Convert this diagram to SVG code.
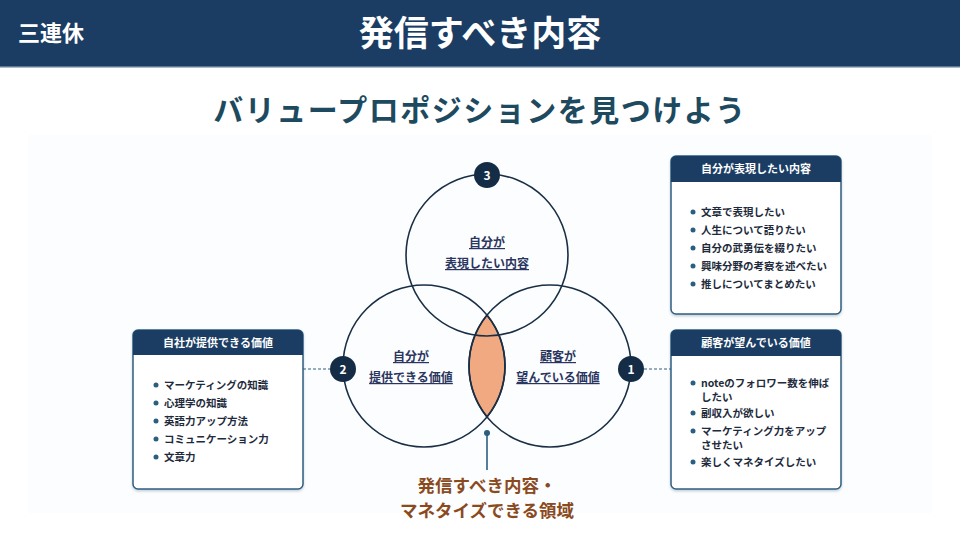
<svg xmlns="http://www.w3.org/2000/svg" width="960" height="540" viewBox="0 0 960 540">
<defs>
<style>
text{font-family:"Noto Sans CJK JP","Noto Sans",sans-serif;font-weight:700}
.hd{fill:#1b3d63}
.box{fill:#ffffff;stroke:#2f5f80;stroke-width:1.5}
.htxt{fill:#ffffff;font-size:11px;text-anchor:middle}
.item{fill:#1e2b3c;font-size:10.5px}
.dot{fill:#2a5f80}
.circ{fill:none;stroke:#1a2f45;stroke-width:1.6}
.lbl{fill:#2b3660;font-size:12px;text-anchor:middle;text-decoration:underline}
.badge{fill:#142c45}
.btxt{fill:#ffffff;font-size:12px;text-anchor:middle}
.dash{stroke:#2f5f80;stroke-width:1;stroke-dasharray:3 2;fill:none}
</style>
<filter id="sh" x="-10%" y="-10%" width="120%" height="120%"><feDropShadow dx="0" dy="1.5" stdDeviation="1.2" flood-color="#1b3d63" flood-opacity="0.25"/></filter>
</defs>
<rect width="960" height="540" fill="#ffffff"/>
<rect x="28" y="135" width="904" height="378" fill="#fcfdfe"/>
<g id="header">
<rect x="0" y="0" width="960" height="67" fill="#1b3d63"/>
<rect x="0" y="66" width="960" height="1.5" fill="#5d7894"/>
<text x="18" y="41" font-size="22" fill="#ffffff">三連休</text>
<text x="480" y="46" font-size="35" fill="#ffffff" text-anchor="middle">発信すべき内容</text>
</g>
<g id="subtitle">
<text x="480" y="121" font-size="30" fill="#1d4a5e" text-anchor="middle" letter-spacing="1.5">バリュープロポジションを見つけよう</text>
</g>
<g id="connectors">
<line class="dash" x1="303" y1="369" x2="330" y2="369"/>
<line class="dash" x1="644" y1="369" x2="671" y2="369"/>
<line x1="487" y1="433" x2="487" y2="470" stroke="#2a5f80" stroke-width="1.6"/>
<circle cx="487" cy="433" r="3" fill="#2a5f80"/>
</g>
<g id="venn">
<path d="M487,315.1 A81,81 0 0 1 487,416.9 A81,81 0 0 1 487,315.1 Z" fill="#f0a981" stroke="#1a2f45" stroke-width="1.6"/>
<circle class="circ" cx="487" cy="255" r="81"/>
<circle class="circ" cx="424" cy="366" r="81"/>
<circle class="circ" cx="550" cy="366" r="81"/>
</g>
<g id="label-top">
<text class="lbl" x="487" y="247">自分が</text>
<text class="lbl" x="487" y="268">表現したい内容</text>
</g>
<g id="label-left">
<text class="lbl" x="411" y="361">自分が</text>
<text class="lbl" x="411" y="382">提供できる価値</text>
</g>
<g id="label-right">
<text class="lbl" x="558" y="361">顧客が</text>
<text class="lbl" x="558" y="382">望んでいる価値</text>
</g>
<g id="badge3"><circle class="badge" cx="487" cy="175" r="13"/><text class="btxt" x="487" y="179.5">3</text></g>
<g id="badge2"><circle class="badge" cx="343" cy="369" r="13"/><text class="btxt" x="343" y="373.5">2</text></g>
<g id="badge1"><circle class="badge" cx="631" cy="369" r="13"/><text class="btxt" x="631" y="373.5">1</text></g>
<g id="box-left">
<rect class="box" x="133" y="330" width="170" height="159" rx="5" filter="url(#sh)"/>
<path class="hd" d="M133,355 V335 a5,5 0 0 1 5,-5 H298 a5,5 0 0 1 5,5 V355 Z"/>
<text class="htxt" x="218" y="347">自社が提供できる価値</text>
<circle class="dot" cx="156" cy="385" r="2.5"/><text class="item" x="164" y="389">マーケティングの知識</text>
<circle class="dot" cx="156" cy="403" r="2.5"/><text class="item" x="164" y="407">心理学の知識</text>
<circle class="dot" cx="156" cy="421" r="2.5"/><text class="item" x="164" y="425">英語力アップ方法</text>
<circle class="dot" cx="156" cy="439" r="2.5"/><text class="item" x="164" y="443">コミュニケーション力</text>
<circle class="dot" cx="156" cy="457" r="2.5"/><text class="item" x="164" y="461">文章力</text>
</g>
<g id="box-top-right">
<rect class="box" x="671" y="156" width="170" height="158" rx="5" filter="url(#sh)"/>
<path class="hd" d="M671,182 V161 a5,5 0 0 1 5,-5 H836 a5,5 0 0 1 5,5 V182 Z"/>
<text class="htxt" x="756" y="173">自分が表現したい内容</text>
<circle class="dot" cx="693" cy="212" r="2.5"/><text class="item" x="701" y="216">文章で表現したい</text>
<circle class="dot" cx="693" cy="230" r="2.5"/><text class="item" x="701" y="234">人生について語りたい</text>
<circle class="dot" cx="693" cy="248" r="2.5"/><text class="item" x="701" y="252">自分の武勇伝を綴りたい</text>
<circle class="dot" cx="693" cy="266" r="2.5"/><text class="item" x="701" y="270">興味分野の考察を述べたい</text>
<circle class="dot" cx="693" cy="284" r="2.5"/><text class="item" x="701" y="288">推しについてまとめたい</text>
</g>
<g id="box-bottom-right">
<rect class="box" x="671" y="330" width="170" height="159" rx="5" filter="url(#sh)"/>
<path class="hd" d="M671,356 V335 a5,5 0 0 1 5,-5 H836 a5,5 0 0 1 5,5 V356 Z"/>
<text class="htxt" x="756" y="347">顧客が望んでいる価値</text>
<circle class="dot" cx="693" cy="383" r="2.5"/><text class="item" x="701" y="387">noteのフォロワー数を伸ば</text>
<text class="item" x="701" y="401">したい</text>
<circle class="dot" cx="693" cy="413" r="2.5"/><text class="item" x="701" y="417">副収入が欲しい</text>
<circle class="dot" cx="693" cy="431" r="2.5"/><text class="item" x="701" y="435">マーケティング力をアップ</text>
<text class="item" x="701" y="449">させたい</text>
<circle class="dot" cx="693" cy="462" r="2.5"/><text class="item" x="701" y="466">楽しくマネタイズしたい</text>
</g>
<g id="result">
<text x="487" y="492" font-size="17.5" fill="#8a4a1e" text-anchor="middle">発信すべき内容・</text>
<text x="487" y="517" font-size="17.5" fill="#8a4a1e" text-anchor="middle">マネタイズできる領域</text>
</g>
</svg>
